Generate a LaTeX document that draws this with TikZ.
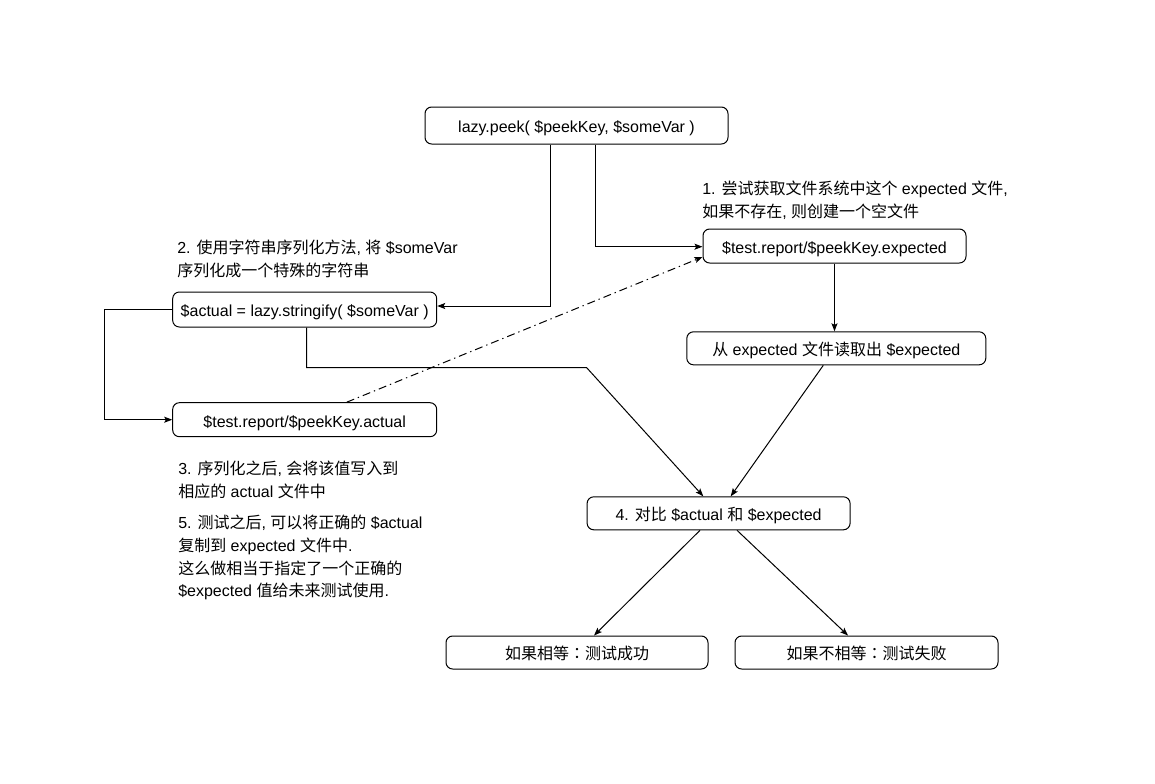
\documentclass[tikz,border=0pt]{standalone}
\usepackage{fontspec}
\setmainfont{Liberation Sans}
\newfontfamily\cjkfont{Noto Sans CJK SC}
\newfontfamily\cjkjp{Noto Sans CJK JP}
\usetikzlibrary{arrows.meta}
\newcommand\zh[1]{{\cjkfont #1}}
\newcommand\jcolon{{\cjkjp ：}}
\begin{document}
\begin{tikzpicture}[x=0.75pt,y=-0.75pt,
  box/.style={draw=black, line width=0.75pt, rounded corners=5pt, inner sep=0pt, align=center, text height=11pt, text depth=0pt, font=\fontsize{12}{14}\selectfont},
  conn/.style={draw=black, line width=0.75pt, -{Stealth[length=6pt,width=4.5pt,inset=1.2pt]}},
  dashdotconn/.style={conn, dash pattern=on 6pt off 3pt on 1pt off 3pt},
  note/.style={anchor=north west, inner sep=0pt, align=left, font=\fontsize{12}{17}\selectfont}]
\fill[white] (0,0) rectangle (1155,783);

% boxes
\node[box, minimum width=227.25pt, minimum height=27.75pt] (peek) at (576.5,125.5) {lazy.peek( \$peekKey, \$someVar )};
\node[box, minimum width=197.25pt, minimum height=25.5pt] (exp) at (834.5,246) {\$test.report/\$peekKey.expected};
\node[box, minimum width=198pt, minimum height=26.25pt] (act) at (304.7,309.5) {\$actual = lazy.stringify( \$someVar )};
\node[box, minimum width=224.25pt, minimum height=24.75pt] (from) at (836.3,348.3) {\zh{从} expected \zh{文件读取出} \$expected};
\node[box, minimum width=198pt, minimum height=25.5pt] (actfile) at (304.7,419.7) {\$test.report/\$peekKey.actual};
\node[box, minimum width=197.25pt, minimum height=24.75pt] (cmp) at (718.6,513.3) {4. \zh{对比} \$actual \zh{和} \$expected};
\node[box, minimum width=196.5pt, minimum height=24.75pt] (eq) at (577,652.5) {\zh{如果相等}\jcolon\zh{测试成功}};
\node[box, minimum width=197.25pt, minimum height=24.75pt] (neq) at (866.5,652.5) {\zh{如果不相等}\jcolon\zh{测试失败}};

% notes
\node[note] (n1) at (702,181) {1. \zh{尝试获取文件系统中这个} expected \zh{文件},\\\zh{如果不存在}, \zh{则创建一个空文件}};
\node[note] (n2) at (177,240) {2. \zh{使用字符串序列化方法}, \zh{将} \$someVar\\\zh{序列化成一个特殊的字符串}};
\node[note] (n3) at (178,461) {3. \zh{序列化之后}, \zh{会将该值写入到}\\\zh{相应的} actual \zh{文件中}};
\node[note] (n5) at (178,515) {5. \zh{测试之后}, \zh{可以将正确的} \$actual\\\zh{复制到} expected \zh{文件中}.\\\zh{这么做相当于指定了一个正确的}\\\$expected \zh{值给未来测试使用}.};

% helper coordinates
\coordinate (b1) at (550.7,306);
\coordinate (b2) at (595.7,246.7);
\coordinate (b3) at (306.7,367.7);
\coordinate (b4) at (586.7,367.7);
\coordinate (t1) at (703.3,0);
\coordinate (t2) at (730.7,0);
\coordinate (f1) at (823.3,0);
\coordinate (d1) at (346.7,0);
\coordinate (d2) at (0,257);
\coordinate (s1) at (700,0);
\coordinate (s2) at (737,0);
\coordinate (e1) at (594,0);
\coordinate (e2) at (848,0);

% connectors
\draw[conn] (peek.south -| b1) -- (b1) -- (act.east |- b1);
\draw[conn] (peek.south -| b2) -- (b2) -- (exp.west |- b2);
\draw[conn] (exp.south) -- (exp.south |- from.north);
\draw[conn] (from.south -| f1) -- (cmp.north -| t2);
\draw[conn] (act.south -| b3) -- (b3) -- (b4) -- (cmp.north -| t1);
\draw[conn] (act.west) -- ++(-68,0) |- (actfile.west);
\draw[dashdotconn] (actfile.north -| d1) -- (exp.west |- d2);
\draw[conn] (cmp.south -| s1) -- (eq.north -| e1);
\draw[conn] (cmp.south -| s2) -- (neq.north -| e2);
\end{tikzpicture}
\end{document}
